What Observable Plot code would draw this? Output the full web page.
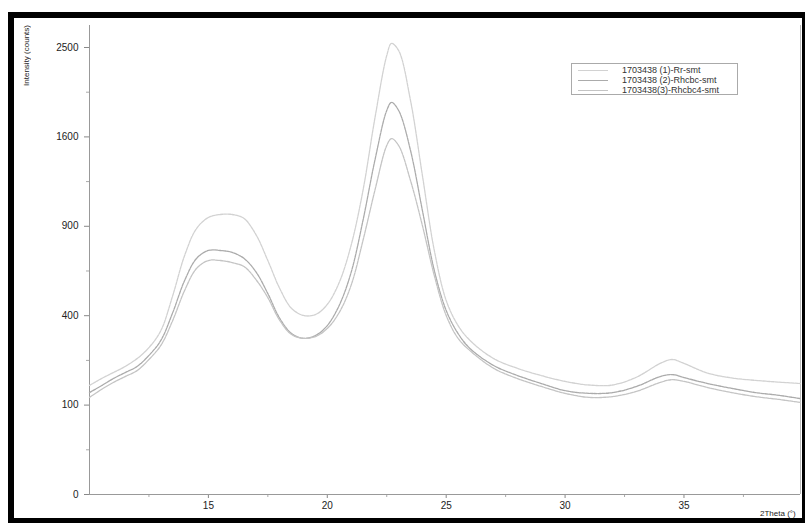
<!DOCTYPE html>
<html>
<head>
<meta charset="utf-8">
<script src="https://cdn.jsdelivr.net/npm/d3@7"></script>
<script src="https://cdn.jsdelivr.net/npm/@observablehq/plot@0.6"></script>
<style>
  html, body { margin: 0; padding: 0; background: #fff; }
  #wrap { position: relative; width: 805px; height: 523px; overflow: hidden; font-family: "Liberation Sans", Arial, sans-serif; }
  #border { position: absolute; left: 8px; top: 12px; width: 797px; height: 511px; box-sizing: border-box;
            border-style: solid; border-color: #000; border-width: 6px 3px 5px 6px; pointer-events: none; }
  #ylab { position: absolute; left: 22px; top: 25px; writing-mode: vertical-rl; transform: rotate(180deg);
          font-size: 8px; color: #222; }
  #xlab { position: absolute; left: 760px; top: 509px; font-size: 8px; color: #222; }
  #legend { position: absolute; left: 571px; top: 63px; width: 167px; height: 32px; box-sizing: border-box;
            border: 1px solid #aaa; font-size: 9px; color: #333; }
  .row { position: absolute; left: 0; height: 10px; width: 100%; }
  .row .sw { position: absolute; left: 6px; top: 5px; width: 30px; height: 0; border-top: 1px solid #999; }
  .row .tx { position: absolute; left: 50px; top: 0; line-height: 10px; white-space: nowrap; }
</style>
</head>
<body>
<div id="wrap">
  <div id="chart"></div>
  <div id="ylab">Intensity (counts)</div>
  <div id="xlab">2Theta (°)</div>
  <div id="legend"></div>
  <div id="border"></div>
</div>
<script>
// 2Theta positions (degrees)
const theta = [10, 10.5, 11, 11.5, 12, 12.5, 13, 13.5, 14, 14.5, 15, 15.5, 16, 16.5, 17, 17.5, 18, 18.5, 19, 19.5,
  20, 20.5, 21, 21.5, 22, 22.5, 22.7, 23, 23.5, 24, 24.5, 25, 25.5, 26, 27, 28, 29, 30, 31, 32, 33, 34, 34.5, 35,
  36, 37, 38, 39, 39.9];

// Intensity (counts) per series
const seriesRr = [149, 168, 186, 205, 231, 270, 336, 495, 715, 885, 960, 981, 981, 953, 845, 685, 531, 433, 401, 405,
  452, 562, 776, 1156, 1769, 2411, 2545, 2466, 1942, 1273, 745, 471, 357, 297, 231, 199, 177, 160, 150, 150, 172, 215, 228, 215,
  184, 170, 163, 158, 154];
const seriesRhcbc = [130, 148, 168, 186, 205, 242, 297, 414, 573, 697, 745, 745, 733, 697, 620, 505, 388, 324, 305, 316,
  357, 447, 616, 939, 1396, 1845, 1923, 1845, 1481, 1009, 628, 424, 324, 267, 208, 177, 154, 135, 128, 130, 146, 174, 180, 171,
  154, 141, 130, 123, 115];
const seriesRhcbc4 = [118, 138, 157, 174, 192, 228, 278, 379, 521, 639, 685, 685, 673, 650, 578, 485, 379, 320, 305, 312,
  345, 414, 547, 807, 1156, 1524, 1585, 1524, 1233, 905, 600, 401, 305, 259, 199, 168, 146, 128, 118, 120, 133, 157, 165, 160,
  143, 130, 120, 113, 106];

const seriesNames = ["1703438 (1)-Rr-smt", "1703438 (2)-Rhcbc-smt", "1703438(3)-Rhcbc4-smt"];
const seriesColors = ["#d2d2d2", "#ababab", "#c4c4c4"];
const yTicks = [0, 100, 400, 900, 1600, 2500];
const yMinorTicks = [25, 225, 625, 1225, 2025];
const xTicks = [15, 20, 25, 30, 35];
const xMinorTicks = [12.5, 17.5, 22.5, 27.5, 32.5, 37.5];

const allSeries = [seriesRr, seriesRhcbc, seriesRhcbc4];
const data = allSeries.flatMap((vals, si) => theta.map((t, i) => ({t, v: vals[i], s: seriesNames[si]})));

const chart = Plot.plot({
  width: 805,
  height: 523,
  marginLeft: 89,
  marginRight: 5,
  marginTop: 25,
  marginBottom: 29,
  style: {fontFamily: "Liberation Sans, Arial, sans-serif", fontSize: "10px", color: "#333", background: "transparent"},
  x: {domain: [10, 39.9], label: null},
  y: {type: "sqrt", domain: [0, 2752], label: null},
  color: {domain: seriesNames, range: seriesColors},
  marks: [
    Plot.axisY({ticks: yTicks, tickSize: 5, tickPadding: 6, tickFormat: d3.format("d"), stroke: "#888", fill: "#222", label: null}),
    Plot.axisY({ticks: yMinorTicks, tickSize: 3, tickFormat: () => "", stroke: "#aaa", label: null}),
    Plot.axisX({ticks: xTicks, tickSize: 4, tickPadding: 3, tickFormat: d3.format("d"), stroke: "#888", fill: "#222", label: null}),
    Plot.axisX({ticks: xMinorTicks, tickSize: 3, tickFormat: () => "", stroke: "#aaa", label: null}),
    Plot.ruleX([10], {stroke: "#999"}),
    Plot.ruleX([39.9], {stroke: "#bbb"}),
    Plot.ruleY([0], {stroke: "#999"}),
    Plot.line(data, {x: "t", y: "v", z: "s", stroke: "s", strokeWidth: 1.3, curve: "catmull-rom", strokeDasharray: "3,1"})
  ]
});
document.getElementById("chart").appendChild(chart);

const legend = document.getElementById("legend");
seriesNames.forEach((name, i) => {
  const row = document.createElement("div");
  row.className = "row";
  row.style.top = (1 + i * 10) + "px";
  const sw = document.createElement("div");
  sw.className = "sw";
  sw.style.borderTopColor = seriesColors[i];
  const tx = document.createElement("div");
  tx.className = "tx";
  tx.textContent = name;
  row.appendChild(sw);
  row.appendChild(tx);
  legend.appendChild(row);
});
</script>
</body>
</html>
